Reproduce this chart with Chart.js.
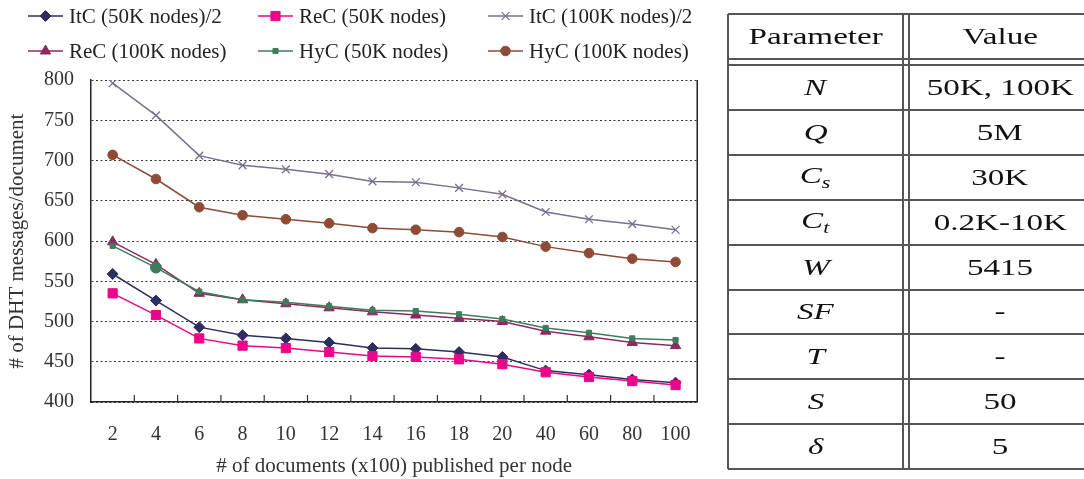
<!DOCTYPE html>
<html>
<head>
<meta charset="utf-8">
<script src="https://cdn.jsdelivr.net/npm/chart.js@4/dist/chart.umd.min.js"></script>
<style>
  html, body { margin: 0; padding: 0; background: #fff; }
  body { width: 1084px; height: 479px; position: relative; overflow: hidden; font-family: "Liberation Serif", "Times New Roman", serif; }
  #chartBox { position: absolute; left: 0; top: 0; width: 712px; height: 479px; }
  #params { position: absolute; left: 0; top: 0; width: 1084px; height: 479px; }
  .ln { position: absolute; background: #555; }
  .cell { position: absolute; display: flex; align-items: center; justify-content: center; font-size: 24px; color: #111; white-space: nowrap; }
  .cell span { display: inline-block; transform: scaleX(1.38); }
  .cell.it span { font-style: italic; }
  .cell sub { font-size: 16px; vertical-align: -5px; }
</style>
</head>
<body>
<div id="chartBox"><canvas id="c"></canvas></div>
<div id="params"></div>
<script>
// Documents published per node (x100)
const categories = ['2', '4', '6', '8', '10', '12', '14', '16', '18', '20', '40', '60', '80', '100'];

// DHT messages per document
const itc50  = [559, 526, 493, 483, 479, 474, 467, 466, 462, 456, 439, 434, 428, 424];
const rec50  = [535, 508, 479, 470, 467, 462, 457, 456, 453, 447, 437, 431, 426, 421];
const itc100 = [796, 756, 706, 694, 689, 683, 674, 673, 666, 658, 636, 627, 621, 614];
const rec100 = [599, 571, 535, 527, 522, 517, 512, 508, 504, 500, 488, 481, 474, 470];
const hyc50  = [594, 567, 537, 527, 524, 519, 514, 513, 509, 503, 492, 486, 479, 477];
const hyc100 = [707, 677, 642, 632, 627, 622, 616, 614, 611, 605, 593, 585, 578, 574];

const yMin = 400, yMax = 800, yStep = 50;

// Simulation parameters
const paramNames  = ['N', 'Q', 'C_s', 'C_t', 'W', 'SF', 'T', 'S', 'δ'];
const paramValues = ['50K, 100K', '5M', '30K', '0.2K-10K', '5415', '-', '-', '50', '5'];

const serif = "'Liberation Serif', 'Times New Roman', serif";

function series(label, data, color, style, radius, extra) {
  return Object.assign({
    label, data,
    borderColor: color, backgroundColor: color,
    pointBackgroundColor: color, pointBorderColor: color,
    borderWidth: 1.5, tension: 0,
    pointStyle: style, pointRadius: radius, pointBorderWidth: 1
  }, extra || {});
}

const datasets = [
  series('ReC (50K nodes)', rec50, '#ea068a', 'rect', 6.5),
  series('ItC (50K nodes)/2', itc50, '#2e2d60', 'rectRot', 5.5),
  series('HyC (50K nodes)', hyc50, '#3f7c5b', 'rect', 3.6, {
    pointStyle: c => (c.dataIndex === 1 ? 'circle' : 'rect'),
    pointRadius: c => (c.dataIndex === 1 ? 5.5 : 3.6)
  }),
  series('ReC (100K nodes)', rec100, '#8c2a5f', 'triangle', 6),
  series('HyC (100K nodes)', hyc100, '#8e4b36', 'circle', 4.8),
  series('ItC (100K nodes)/2', itc100, '#7a6f8e', 'crossRot', 5.5, { pointBorderWidth: 1.3 })
];

// Legend layout: two rows of three entries
const legendOrder = [
  'ItC (50K nodes)/2', 'ReC (50K nodes)', 'ItC (100K nodes)/2',
  'ReC (100K nodes)', 'HyC (50K nodes)', 'HyC (100K nodes)'
];

const legendPlugin = {
  id: 'lineLegend',
  afterDraw(chart) {
    const ctx = chart.ctx;
    const colX = [28, 258, 488];
    const rowY = [16, 51];
    ctx.save();
    legendOrder.forEach((name, i) => {
      const ds = chart.data.datasets.find(d => d.label === name);
      const x0 = colX[i % 3], y = rowY[Math.floor(i / 3)];
      ctx.strokeStyle = ds.borderColor;
      ctx.lineWidth = 1.5;
      ctx.beginPath();
      ctx.moveTo(x0, y);
      ctx.lineTo(x0 + 35, y);
      ctx.stroke();
      const style = typeof ds.pointStyle === 'function' ? 'rect' : ds.pointStyle;
      const r = typeof ds.pointRadius === 'function' ? 3.6 : ds.pointRadius;
      ctx.fillStyle = ds.pointBackgroundColor;
      ctx.strokeStyle = ds.pointBorderColor;
      ctx.lineWidth = ds.pointBorderWidth;
      Chart.helpers.drawPoint(ctx, { pointStyle: style, radius: r, rotation: 0, borderWidth: ds.pointBorderWidth }, x0 + 17.5, y);
      ctx.fillStyle = '#222';
      ctx.font = '21px ' + serif;
      ctx.textBaseline = 'middle';
      ctx.textAlign = 'left';
      ctx.fillText(name, x0 + 41, y + 1);
    });
    ctx.restore();
  }
};

// Right frame edge and inward category tick marks on the x axis
const framePlugin = {
  id: 'frame',
  afterDatasetsDraw(chart) {
    const { ctx, chartArea: a, scales: { x } } = chart;
    ctx.save();
    ctx.strokeStyle = '#222';
    ctx.lineWidth = 1.5;
    ctx.beginPath();
    ctx.moveTo(a.right, a.top);
    ctx.lineTo(a.right, a.bottom);
    ctx.stroke();
    ctx.lineWidth = 1.2;
    ctx.strokeStyle = '#333';
    for (let i = 0; i < categories.length - 1; i++) {
      const px = (x.getPixelForTick(i) + x.getPixelForTick(i + 1)) / 2;
      ctx.beginPath();
      ctx.moveTo(px, a.bottom);
      ctx.lineTo(px, a.bottom - 7);
      ctx.stroke();
    }
    ctx.restore();
  }
};

new Chart(document.getElementById('c'), {
  type: 'line',
  data: { labels: categories, datasets },
  options: {
    responsive: true,
    maintainAspectRatio: false,
    animation: false,
    layout: { padding: { top: 80, right: 12, left: 0, bottom: 0 } },
    plugins: { legend: { display: false }, tooltip: { enabled: false } },
    scales: {
      x: {
        offset: true,
        grid: { display: false, drawTicks: false },
        border: { color: '#222', width: 1.5 },
        ticks: { font: { family: serif, size: 20 }, color: '#333', padding: 21, autoSkip: false, maxRotation: 0 },
        title: {
          display: true, text: '# of documents (x100) published per node',
          font: { family: serif, size: 21 }, color: '#333', padding: { top: 0, bottom: 0 }
        },
        afterFit(s) { s.height = 77; }
      },
      y: {
        min: yMin, max: yMax,
        grid: { color: '#3a3a3a', lineWidth: 1, drawTicks: false },
        border: { color: '#222', width: 1.5, dash: [2, 2.5] },
        ticks: { stepSize: yStep, font: { family: serif, size: 20 }, color: '#333', padding: 17 },
        title: {
          display: true, text: '# of DHT messages/document',
          font: { family: serif, size: 21 }, color: '#333', padding: { top: 5, bottom: 0 }
        },
        afterFit(s) { s.width = 91; }
      }
    }
  },
  plugins: [framePlugin, legendPlugin]
});

// Parameter table
(function buildTable() {
  const box = document.getElementById('params');
  const left = 728, divA = 903, divB = 909, right = 1091;
  const headTop = 14, headBottom = 59, bodyTop = 65, rowH = 44.9;
  const bottom = bodyTop + rowH * paramNames.length;
  const line = (x, y, w, h) => {
    const d = document.createElement('div');
    d.className = 'ln';
    d.style.cssText = `left:${x}px;top:${y}px;width:${w}px;height:${h}px;`;
    box.appendChild(d);
  };
  const cell = (x0, x1, y0, y1, html, italic) => {
    const d = document.createElement('div');
    d.className = 'cell' + (italic ? ' it' : '');
    d.style.cssText = `left:${x0}px;top:${y0}px;width:${x1 - x0}px;height:${y1 - y0}px;`;
    d.innerHTML = '<span>' + html + '</span>';
    box.appendChild(d);
  };
  const ys = [headTop, headBottom, bodyTop];
  for (let i = 1; i <= paramNames.length; i++) ys.push(bodyTop + rowH * i);
  ys.forEach(y => line(left, Math.round(y) - 0.75, right - left, 1.5));
  [left, divA, divB].forEach(x => line(x - 0.75, headTop, 1.5, bottom - headTop));
  cell(left, divA, headTop, headBottom, 'Parameter');
  cell(divB, right, headTop, headBottom, 'Value');
  paramNames.forEach((p, i) => {
    const y0 = bodyTop + rowH * i, y1 = y0 + rowH;
    const parts = p.split('_');
    const html = parts[0] + (parts[1] ? '<sub>' + parts[1] + '</sub>' : '');
    cell(left, divA, y0, y1, html, true);
    cell(divB, right, y0, y1, paramValues[i], false);
  });
})();
</script>
</body>
</html>
